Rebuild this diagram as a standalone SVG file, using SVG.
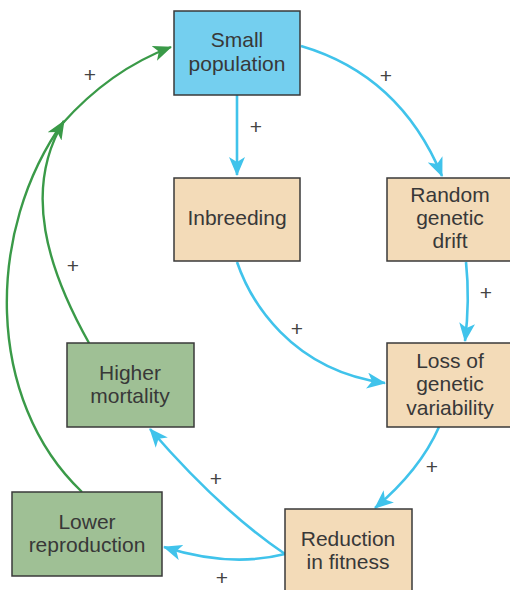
<svg xmlns="http://www.w3.org/2000/svg" width="510" height="590" viewBox="0 0 510 590">
  <style>
    .box { stroke: #3a3a3a; stroke-width: 1.5; }
    .blue { fill: #74cfef; }
    .tan { fill: #f3dbb8; }
    .green { fill: #9fc095; }
    .label { font-family: "Liberation Sans", Arial, sans-serif; font-size: 21px; fill: #383838; text-anchor: middle; }
    .plus { font-family: "Liberation Sans", Arial, sans-serif; font-size: 21px; fill: #444; text-anchor: middle; }
    .cb { fill: none; stroke: #40c3eb; stroke-width: 2.6; }
    .cg { fill: none; stroke: #3a9a48; stroke-width: 2.4; }
  </style>
  <defs>
    <marker id="ab" markerUnits="userSpaceOnUse" markerWidth="20" markerHeight="16" refX="18" refY="8" orient="auto">
      <path d="M0,0 L19,8 L0,16 L5,8 z" fill="#40c3eb"/>
    </marker>
    <marker id="ag" markerUnits="userSpaceOnUse" markerWidth="20" markerHeight="16" refX="18" refY="8" orient="auto">
      <path d="M0,0 L19,8 L0,16 L5,8 z" fill="#3a9a48"/>
    </marker>
  </defs>

  <g id="connectors">
    <path class="cb" d="M237,95 L237,175" marker-end="url(#ab)"/>
    <path class="cb" d="M301,46 Q400,75 442,176" marker-end="url(#ab)"/>
    <path class="cb" d="M237,262 C250,300 290,370 385,383" marker-end="url(#ab)"/>
    <path class="cb" d="M466,262 Q470,300 465,341" marker-end="url(#ab)"/>
    <path class="cb" d="M439,427 Q420,470 375,508" marker-end="url(#ab)"/>
    <path class="cb" d="M285,554 Q220,510 150,429" marker-end="url(#ab)"/>
    <path class="cb" d="M285,554 Q230,568 164,547" marker-end="url(#ab)"/>
    <path class="cg" d="M82,492 C-15,400 -15,230 64,121"/>
    <path class="cg" d="M89,343 C48,270 22,190 64,121" marker-end="url(#ag)"/>
    <path class="cg" d="M62,124 Q110,70 171,47" marker-end="url(#ag)"/>
    <text class="plus" x="90" y="82">+</text>
    <text class="plus" x="386" y="83">+</text>
    <text class="plus" x="256" y="134">+</text>
    <text class="plus" x="73" y="273">+</text>
    <text class="plus" x="297" y="336">+</text>
    <text class="plus" x="486" y="300">+</text>
    <text class="plus" x="432" y="474">+</text>
    <text class="plus" x="216" y="486">+</text>
    <text class="plus" x="222" y="585">+</text>
  </g>

  <g id="small-population">
    <rect class="box blue" x="174" y="11" width="126" height="84"/>
    <text class="label" x="237" y="47">Small</text>
    <text class="label" x="237" y="71">population</text>
  </g>
  <g id="inbreeding">
    <rect class="box tan" x="174" y="178" width="126" height="83"/>
    <text class="label" x="237" y="225">Inbreeding</text>
  </g>
  <g id="random-drift">
    <rect class="box tan" x="387" y="178" width="126" height="83"/>
    <text class="label" x="450" y="202">Random</text>
    <text class="label" x="450" y="225">genetic</text>
    <text class="label" x="450" y="248">drift</text>
  </g>
  <g id="loss-variability">
    <rect class="box tan" x="387" y="343" width="126" height="84"/>
    <text class="label" x="450" y="368">Loss of</text>
    <text class="label" x="450" y="391">genetic</text>
    <text class="label" x="450" y="415">variability</text>
  </g>
  <g id="higher-mortality">
    <rect class="box green" x="67" y="343" width="127" height="84"/>
    <text class="label" x="130" y="380">Higher</text>
    <text class="label" x="130" y="403">mortality</text>
  </g>
  <g id="lower-reproduction">
    <rect class="box green" x="12" y="492" width="150" height="84"/>
    <text class="label" x="87" y="529">Lower</text>
    <text class="label" x="87" y="552">reproduction</text>
  </g>
  <g id="reduction-fitness">
    <rect class="box tan" x="285" y="509" width="127" height="84"/>
    <text class="label" x="348" y="546">Reduction</text>
    <text class="label" x="348" y="569">in fitness</text>
  </g>
</svg>
